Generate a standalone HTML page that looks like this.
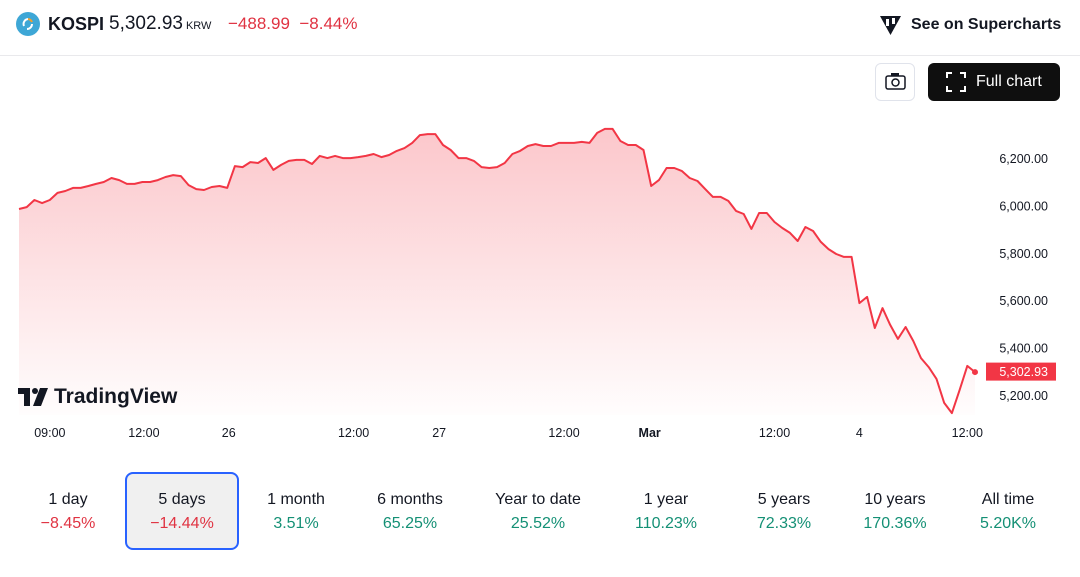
<!DOCTYPE html>
<html><head><meta charset="utf-8">
<style>
*{box-sizing:border-box;margin:0;padding:0}
body{width:1080px;height:577px;background:#fff;font-family:"Liberation Sans",sans-serif;position:relative;overflow:hidden;color:#131722}
.abs{position:absolute}
.per{position:absolute;top:472px;width:114px;height:78px;text-align:center;font-size:16px;padding-top:19px}
.per .v{margin-top:6px;font-size:16px}
.neg{color:#e03342}.pos{color:#149075}
</style></head><body>
<div class="abs" style="left:0;top:0;width:1080px;height:56px;border-bottom:1px solid #e9e9ec"></div>
<div class="abs" style="left:16px;top:12px;width:24px;height:24px;border-radius:50%;background:#3ea7d6">
<svg width="24" height="24"><path d="M8 14 A5 5 0 0 1 12 7" stroke="#fff" stroke-width="2" fill="none"/><path d="M12 7 A5 5 0 0 1 16 10" stroke="#f0a030" stroke-width="2" fill="none"/><path d="M16 12 A5 5 0 0 1 11 17" stroke="#fff" stroke-width="2" fill="none"/></svg></div>
<div class="abs" style="left:48px;top:14px;font-size:18px;font-weight:bold;color:#131722">KOSPI</div>
<div class="abs" style="left:109px;top:13px;font-size:19px;color:#131722">5,302.93<span style="font-size:11px;margin-left:3px">KRW</span></div>
<div class="abs neg" style="left:228px;top:14px;font-size:17px">−488.99&nbsp; −8.44%</div>
<div class="abs" style="left:878px;top:13px;font-size:16px;font-weight:bold;display:flex;align-items:center;gap:8px">
<svg width="25" height="24"><path d="M2 3 H23 L12.5 22 Z" fill="#131722"/><rect x="8" y="6" width="3" height="7" fill="#fff"/><rect x="14" y="5" width="3" height="6" fill="#fff"/></svg>See on Supercharts</div>
<div class="abs" style="left:875px;top:63px;width:40px;height:38px;border:1px solid #e0e3eb;border-radius:6px">
<svg width="38" height="36"><rect x="10" y="12" width="19" height="13" rx="2" fill="none" stroke="#131722" stroke-width="1.5"/><rect x="15" y="9" width="8" height="3" fill="#131722"/><circle cx="19.5" cy="18.5" r="3.5" fill="none" stroke="#131722" stroke-width="1.5"/></svg></div>
<div class="abs" style="left:928px;top:63px;width:132px;height:38px;background:#0f0f0f;border-radius:6px;color:#fff;font-size:16px;display:flex;align-items:center;padding-left:18px;gap:10px">
<svg width="20" height="20" fill="none" stroke="#fff" stroke-width="2"><path d="M1 6V1H6M14 1H19V6M19 14V19H14M6 19H1V14"/></svg>Full chart</div>

<svg class="abs" style="left:0;top:0" width="1080" height="460" id="chart">
<defs><linearGradient id="g" x1="0" y1="0" x2="0" y2="1"><stop offset="0" stop-color="#f23645" stop-opacity="0.28"/><stop offset="1" stop-color="#f23645" stop-opacity="0.01"/></linearGradient></defs>
</svg>
<div class="abs" style="left:18px;top:385px;font-size:21px;font-weight:bold;display:flex;align-items:center;gap:6px">
<svg width="30" height="18"><path d="M0 0H12V18H6V6H0Z" fill="#131722"/><circle cx="17" cy="3" r="3" fill="#131722"/><path d="M22 0H30L23 18H15Z" fill="#131722"/></svg>TradingView</div>

<div class="per" style="left:11px">1 day<div class="v neg">−8.45%</div></div>
<div class="per" style="left:125px;border:2px solid #2962ff;border-radius:8px;background:#f0f0f0;padding-top:17px">5 days<div class="v neg">−14.44%</div></div>
<div class="per" style="left:239px">1 month<div class="v pos">3.51%</div></div>
<div class="per" style="left:353px">6 months<div class="v pos">65.25%</div></div>
<div class="per" style="left:481px">Year to date<div class="v pos">25.52%</div></div>
<div class="per" style="left:609px">1 year<div class="v pos">110.23%</div></div>
<div class="per" style="left:727px">5 years<div class="v pos">72.33%</div></div>
<div class="per" style="left:838px">10 years<div class="v pos">170.36%</div></div>
<div class="per" style="left:951px">All time<div class="v pos">5.20K%</div></div>

<script>
const values=[5989,5997,6027,6014,6027,6057,6065,6078,6078,6086,6095,6103,6120,6111,6095,6095,6103,6103,6111,6124,6132,6128,6090,6073,6069,6082,6086,6078,6170,6166,6187,6183,6204,6154,6175,6192,6196,6196,6179,6213,6204,6213,6204,6204,6208,6213,6221,6208,6217,6234,6246,6268,6301,6305,6305,6259,6238,6204,6204,6192,6166,6162,6166,6183,6221,6234,6255,6263,6255,6255,6268,6268,6268,6272,6268,6310,6327,6327,6276,6259,6259,6238,6086,6111,6162,6162,6149,6120,6107,6073,6040,6040,6023,5981,5968,5905,5972,5972,5934,5909,5888,5854,5913,5896,5850,5820,5799,5787,5787,5592,5618,5487,5571,5500,5441,5491,5432,5360,5322,5272,5171,5128,5225,5327,5301];
const yTicks=[6200,6000,5800,5600,5400,5200];
const xTickLabels=["09:00","12:00","26","12:00","27","12:00","Mar","12:00","4","12:00"];
const xTickIdx=[4,16.2,27.2,43.4,54.5,70.7,81.8,98,109,123];
const lastPrice=5302.93;
const svg=document.getElementById('chart');
const NS='http://www.w3.org/2000/svg';
const X0=19,X1=975,n=values.length;
const x=i=>X0+(X1-X0)*i/(n-1);
const y=v=>159+(6200-v)*47.4/200;
function mk(t,a){const e=document.createElementNS(NS,t);for(const k in a)e.setAttribute(k,a[k]);svg.appendChild(e);return e;}
let d=values.map((v,i)=>(i?'L':'M')+x(i).toFixed(1)+' '+y(v).toFixed(1)).join(' ');
const area=mk('path',{d:d+` L${x(n-1)} 415 L${X0} 415 Z`,fill:'url(#g)'});


const line=mk('path',{d:d,fill:'none',stroke:'#f23645','stroke-width':2,'stroke-linejoin':'round'});


const dot=mk('circle',{cx:x(n-1),cy:y(values[n-1]),r:3,fill:'#f23645'});


yTicks.forEach(v=>{const t=mk('text',{x:1048,y:y(v)+4,'text-anchor':'end','font-size':12.5,fill:'#131722','font-family':'Liberation Sans'});t.textContent=v.toLocaleString('en-US',{minimumFractionDigits:2});

});
xTickLabels.forEach((l,i)=>{const t=mk('text',{x:x(xTickIdx[i]),y:437,'text-anchor':'middle','font-size':12.5,fill:'#131722','font-family':'Liberation Sans','font-weight':l=='Mar'?'bold':'normal'});t.textContent=l;

});
const ly=y(lastPrice);
const badge=mk('rect',{x:986,y:ly-9,width:70,height:18,fill:'#f23645'});


const bt=mk('text',{x:1048,y:ly+4.5,'text-anchor':'end','font-size':12.5,fill:'#fff','font-family':'Liberation Sans'});bt.textContent=lastPrice.toLocaleString('en-US',{minimumFractionDigits:2});


</script>
</body></html>
